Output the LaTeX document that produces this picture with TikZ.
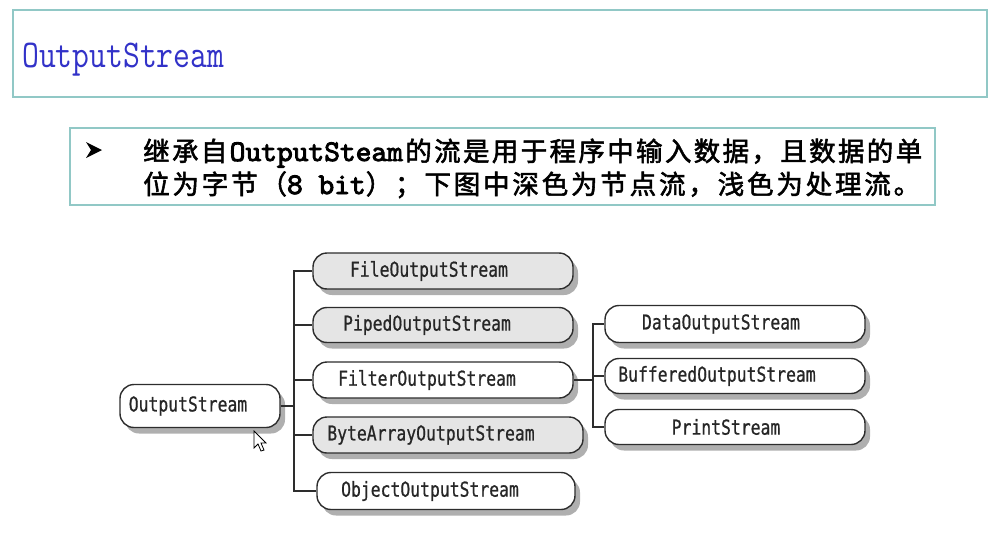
\documentclass[tikz,border=0pt]{standalone}
\usepackage{fontspec}
\usetikzlibrary{shadows}
\newfontfamily\cjk{Noto Sans CJK SC}[FakeBold=2]
\newfontfamily\nodefont{DejaVu Sans Mono}[FakeBold=0.8]
\newfontfamily\monobf{lmmono10-regular.otf}[FakeBold=3]
\newcommand\monob{\monobf\fontsize{30}{30}\selectfont}
\definecolor{boxline}{RGB}{145,200,198}
\definecolor{titleblue}{RGB}{50,50,200}
\definecolor{conn}{RGB}{45,45,45}
\newcommand\nt[1]{\scalebox{1}[1.25]{#1}}
\tikzset{
  cls/.style={draw=conn, line width=1.4pt, rounded corners=14pt, inner sep=0pt,
    minimum height=36pt, font=\nodefont\fontsize{16.4}{18}\selectfont, text=black!85,
    drop shadow={shadow xshift=5pt, shadow yshift=-6pt, fill=black!35, opacity=0.9}},
  darkcls/.style={cls, fill=black!10},
  lightcls/.style={cls, fill=white},
  link/.style={draw=conn, line width=1.4pt},
  panel/.style={draw=boxline, line width=1.5pt}
}
\begin{document}
\begin{tikzpicture}[x=1pt, y=-1pt]
\useasboundingbox (0,0) rectangle (998,535);
% header panel
\draw[panel] (13,10) rectangle (987,97);
\node[anchor=base west, inner sep=0pt, text=titleblue, font=\ttfamily\fontsize{32.7}{34}\selectfont] (title) at (22,67) {\scalebox{1}[1.2]{OutputStream}};
% text panel
\draw[panel] (70,128) rectangle (935,205);
\fill (86,142) -- (102,150) -- (86,158) -- (91,150) -- cycle;
\node[anchor=base west, inner sep=0pt, font=\cjk\fontsize{26.5}{28}\selectfont] (l1) at (143,161)
 {\hbox to 779pt{继\hfil 承\hfil 自\hfil{\monob OutputSteam}\hfil 的\hfil 流\hfil 是\hfil 用\hfil 于\hfil 程\hfil 序\hfil 中\hfil 输\hfil 入\hfil 数\hfil 据\hfil ，\hfil 且\hfil 数\hfil 据\hfil 的\hfil 单}};
\node[anchor=base west, inner sep=0pt, font=\cjk\fontsize{26.5}{28}\selectfont] (l2) at (143,194)
 {\hbox to 777pt{位\hfil 为\hfil 字\hfil 节\hfil （{\monob 8 bit}）\hfil ；\hfil 下\hfil 图\hfil 中\hfil 深\hfil 色\hfil 为\hfil 节\hfil 点\hfil 流\hfil ，\hfil 浅\hfil 色\hfil 为\hfil 处\hfil 理\hfil 流\hfil 。}};
% diagram nodes
\node[lightcls, minimum width=160pt, minimum height=43pt] (os) at (200,406) {\nt{OutputStream}\kern24pt};
\node[darkcls, minimum width=260pt] (fos) at (443,271) {\nt{FileOutputStream}\kern28pt};
\node[darkcls, minimum width=260pt, minimum height=35pt] (pos) at (443,325) {\nt{PipedOutputStream}\kern32pt};
\node[lightcls, minimum width=260pt] (filt) at (443,380) {\nt{FilterOutputStream}\kern32pt};
\node[darkcls, minimum width=270pt] (baos) at (448,435) {\nt{ByteArrayOutputStream}\kern34pt};
\node[lightcls, minimum width=258pt, minimum height=37pt] (oos) at (446,491) {\nt{ObjectOutputStream}\kern32pt};
\node[lightcls, minimum width=260pt, minimum height=37pt] (dos) at (735,324) {\nt{DataOutputStream}\kern28pt};
\node[lightcls, minimum width=260pt, minimum height=35pt] (bos) at (735,376) {\nt{BufferedOutputStream}\kern36pt};
\node[lightcls, minimum width=260pt, minimum height=35pt] (ps) at (735,427) {\nt{PrintStream}\kern18pt};
% connectors
\coordinate (j1) at (294,406);
\coordinate (j2) at (593,380);
\draw[link] (os.east) -- (j1);
\foreach \c in {fos,pos,filt,baos,oos} \draw[link] (j1) |- (\c.west);
\draw[link] (filt.east) -- (j2);
\foreach \c in {dos,bos,ps} \draw[link] (j2) |- (\c.west);
% mouse cursor
\draw[fill=white, line width=0.8pt, line join=miter] (254,431) -- (254,448) -- (258,444) -- (261,451) -- (264,450) -- (261,443) -- (266,443) -- cycle;
\end{tikzpicture}
\end{document}
